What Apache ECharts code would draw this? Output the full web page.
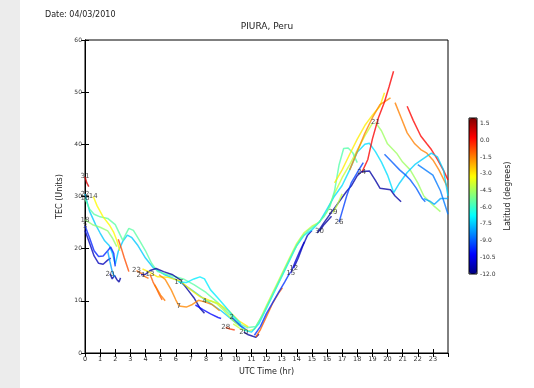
<!DOCTYPE html>
<html>
<head>
<meta charset="utf-8">
<script src="https://cdn.jsdelivr.net/npm/echarts@6/dist/echarts.min.js"></script>
<style>
  html, body { margin: 0; padding: 0; background: #fff; }
  #strip { position: absolute; left: 0; top: 0; width: 20px; height: 388px; background: #ececec; }
  #main { position: absolute; left: 0; top: 0; width: 534px; height: 388px; }
</style>
</head>
<body>
<div id="strip"></div>
<div id="main"></div>
<script>
// hour ticks and TEC ticks
const hourTicks = [0, 1, 2, 3, 4, 5, 6, 7, 8, 9, 10, 11, 12, 13, 14, 15, 16, 17, 18, 19, 20, 21, 22, 23];
const latMin = -12.0;
const latMax = 2.0;

// satellite arcs: [UTC hour, TEC]
const t01 = [[0, 33.8], [0.12, 32.6], [0.25, 31.9]];
const t02 = [[0, 30.5], [0.3, 27.2], [0.7, 24.6], [1.0, 23], [1.3, 21.5], [1.6, 20.6], [1.8, 19.2], [2.0, 17], [2.2, 19.5], [2.5, 21.4], [2.8, 22.6], [3.1, 22.1], [3.5, 20.6], [4.0, 18.2], [4.5, 16.4], [5.2, 15.1], [6.0, 14.1], [7.0, 12.2], [8.0, 10.1], [9.0, 8.1], [9.8, 6.2], [10.5, 4.6]];
const t03 = [[0, 29.6], [0.3, 27.6], [0.6, 26.6], [1.0, 26.1], [1.5, 25.8], [2.0, 24.6], [2.3, 22.8], [2.5, 21.6], [2.7, 22.8], [2.9, 23.9], [3.2, 23.5], [3.6, 21.6], [4.0, 19.6], [4.4, 17.2], [4.8, 15.6], [5.5, 15.0], [6.5, 14.2], [7.2, 13.1], [8.0, 11.6], [8.8, 9.6], [9.5, 7.6], [10.2, 5.6], [10.8, 4.8]];
const t04 = [[0.55, 30], [0.8, 28.2], [1.2, 26.1], [1.6, 24.6], [1.9, 23.1], [2.1, 21.6], [2.3, 19.6]];
const t05 = [[0, 25.5], [0.5, 24.6], [1.0, 24.1], [1.5, 23.4], [1.8, 22.1], [2.1, 20.4]];
const t06 = [[0, 24.4], [0.3, 22.1], [0.6, 19.6], [0.9, 18.5], [1.2, 18.6], [1.5, 19.6], [1.7, 20.3], [1.9, 19.1], [2.0, 16.6]];
const t07 = [[0, 23.5], [0.3, 21.1], [0.6, 18.6], [0.9, 17.2], [1.2, 17.0], [1.5, 17.8], [1.7, 18.2]];
const t08 = [[1.65, 15.2], [1.8, 14.2], [1.95, 14.9], [2.1, 14.1], [2.25, 13.6], [2.35, 14.4]];
const t09 = [[1.5, 19.5], [1.65, 17.5], [1.8, 15.6], [1.95, 14.6]];
const t10 = [[2.2, 21.8], [2.4, 20.1], [2.6, 18.2], [2.8, 16.5], [2.9, 15.6]];
const t11 = [[3.4, 15.8], [3.6, 15.5], [3.8, 15.1], [4.0, 14.6], [4.2, 14.3]];
const t12 = [[3.7, 15.0], [4.0, 15.1], [4.3, 15.8], [4.7, 16.2], [5.2, 15.6], [5.8, 15.0], [6.3, 14.0], [6.8, 12.1], [7.2, 10.6], [7.6, 8.6], [7.9, 7.6]];
const t13 = [[4.3, 15.1], [4.5, 13.6], [4.7, 12.5], [4.9, 11.3], [5.1, 10.2]];
const t14 = [[4.6, 13.1], [4.8, 12.1], [5.0, 11.1], [5.3, 10.0]];
const t15 = [[3.8, 16.1], [4.2, 15.6], [4.8, 14.6], [5.5, 14.5], [6.3, 13.8], [7.0, 12.1], [7.6, 10.8], [8.2, 10.1], [8.8, 9.5], [9.5, 8.1], [10.2, 6.1], [10.8, 5.0]];
const t16 = [[6.2, 13.6], [6.7, 13.5], [7.2, 14.2], [7.6, 14.6], [7.9, 14.2], [8.3, 12.1], [8.8, 10.5], [9.3, 8.8], [9.8, 7.1], [10.3, 5.6]];
const t17 = [[4.9, 15.0], [5.3, 14.1], [5.7, 12.1], [6.0, 10.2], [6.2, 9.1]];
const t18 = [[6.2, 9.0], [6.7, 8.8], [7.1, 9.3], [7.5, 10.1], [7.9, 9.8], [8.4, 9.3], [8.9, 8.1]];
const t19 = [[7.9, 9.9], [8.3, 10.0], [8.7, 9.5], [9.2, 8.1], [9.7, 6.5], [10.2, 5.2]];
const t20 = [[7.3, 9.2], [7.8, 8.3], [8.3, 7.5], [8.8, 6.8], [9.0, 6.6]];
const t21 = [[9.3, 4.9], [9.6, 4.6], [9.9, 4.4]];
const t22 = [[9.7, 6.8], [10.0, 6.0], [10.3, 5.2], [10.6, 4.6]];
const t23 = [[10.5, 4.0], [10.8, 3.5], [11.0, 3.3], [11.3, 3.0], [11.5, 3.6]];
const t24 = [[11.3, 3.1], [11.6, 4.5], [12.0, 7.0], [12.4, 9.5], [12.8, 11.5], [13.05, 12.5]];
const t25 = [[11.2, 3.4], [11.6, 5.1], [12.0, 7.6], [12.4, 9.6], [12.8, 11.6], [13.2, 13.6], [13.55, 15.4]];
const t26 = [[13.6, 15.3], [13.9, 17.5], [14.2, 19.5], [14.5, 21.3]];
const t27 = [[13.8, 16.3], [14.1, 18.2], [14.4, 20.5], [14.7, 22.5], [15.0, 23.5]];
const t28 = [[9.8, 5.6], [10.3, 4.6], [10.8, 4.2], [11.2, 4.6], [11.6, 6.6], [12.0, 9.1], [12.5, 12.1], [13.0, 15.1], [13.5, 18.1], [14.0, 21.0], [14.5, 23.1], [15.0, 24.3], [15.5, 25.1], [16.0, 27.1], [16.5, 30.6], [17.0, 33.6], [17.5, 36.1], [18.0, 38.9], [18.5, 41.6], [19.0, 44.0]];
const t29 = [[10.5, 4.4], [11.0, 4.0], [11.5, 5.6], [12.0, 8.6], [12.5, 11.6], [13.0, 14.6], [13.5, 17.6], [14.0, 20.6], [14.5, 22.6], [15.0, 23.6], [15.5, 25.1], [16.0, 27.6], [16.5, 30.1], [17.0, 32.1], [17.5, 35.1], [18.0, 38.5], [18.5, 40.0], [18.8, 40.2], [19.2, 38.6], [19.6, 36.6], [20.0, 34.1], [20.4, 30.8]];
const t30 = [[10.8, 4.9], [11.3, 5.1], [11.8, 7.6], [12.3, 10.6], [12.8, 13.6], [13.3, 16.6], [13.8, 19.6], [14.3, 22.1], [14.8, 23.6], [15.3, 24.6], [15.8, 26.1], [16.2, 28.1], [16.5, 31.1], [16.8, 36.1], [17.1, 39.2], [17.4, 39.3], [17.7, 38.4], [18.0, 36.5]];
const t31 = [[19.2, 44.2], [19.6, 42.6], [20.0, 40.1], [20.6, 38.3], [21.0, 36.6], [21.5, 35.1], [22.0, 32.6], [22.4, 30.1], [23.1, 28.1], [23.5, 27.1]];
const t32 = [[16.5, 32.6], [17.0, 35.1], [17.5, 38.1], [18.0, 41.0], [18.5, 43.6], [19.0, 45.6], [19.5, 47.3], [19.8, 49.9]];
const t33 = [[17.5, 35.1], [18.0, 38.6], [18.5, 42.1], [19.0, 45.1], [19.5, 47.6], [20.2, 48.9]];
const t34 = [[18.3, 34.6], [18.7, 37.1], [19.0, 41.0], [19.4, 45.1], [19.8, 48.1], [20.1, 51.0], [20.4, 54.0]];
const t35 = [[15.35, 23.0], [15.8, 25.0], [16.3, 27.0], [16.8, 29.0], [17.3, 31.0], [17.6, 32.0], [18.0, 34.0], [18.3, 34.8], [18.8, 34.9], [19.2, 33.1], [19.5, 31.6], [20.2, 31.3], [20.5, 30.1], [20.9, 29.0]];
const t36 = [[15.5, 23.3], [15.8, 24.6], [16.3, 26.2]];
const t37 = [[16.8, 25.1], [17.0, 27.1], [17.3, 30.1], [17.6, 32.6], [18.0, 34.6], [18.4, 36.5]];
const t38 = [[20.5, 48.0], [20.9, 45.1], [21.3, 42.2], [21.8, 40.1], [22.2, 39.0], [22.6, 38.3], [23.0, 37.0], [23.4, 35.1], [23.95, 31.9]];
const t39 = [[21.3, 47.3], [21.7, 44.6], [22.2, 41.6], [22.6, 40.1], [22.9, 39.0], [23.3, 37.1], [23.7, 35.0], [24.0, 33.2]];
const t40 = [[20.4, 30.7], [20.8, 32.6], [21.3, 34.6], [21.8, 36.1], [22.3, 37.1], [22.9, 38.3], [23.3, 37.6], [23.7, 35.1], [24.0, 30.1]];
const t41 = [[19.8, 38.1], [20.3, 36.6], [20.8, 35.1], [21.2, 34.1], [21.5, 33.2], [21.9, 31.6], [22.3, 29.6], [22.5, 29.0]];
const t42 = [[22.4, 29.6], [22.8, 29.1], [23.1, 28.5], [23.5, 29.6], [24.0, 29.6]];
const t43 = [[22.0, 36.1], [22.5, 35.1], [23.0, 34.1], [23.5, 31.1], [24.0, 26.6]];
const t44 = [[16.4, 26.9], [16.7, 28.5], [17.0, 30.5]];

const tracks = [t01, t02, t03, t04, t05, t06, t07, t08, t09, t10, t11, t12, t13, t14, t15, t16, t17, t18, t19, t20, t21, t22,
  t23, t24, t25, t26, t27, t28, t29, t30, t31, t32, t33, t34, t35, t36, t37, t38, t39, t40, t41, t42, t43, t44];
// PRN number shown at the start of each arc
const prnLabels = ['31', '22', '16', '14', '18', '3', '', '20', '', '', '23', '21', '13', '', '', '17', '', '7', '4', '', '28', '2',
  '20', '', '', '15', '12', '', '', '', '21', '', '', '24', '', '30', '26', '', '', '', '', '', '', '29'];
// latitude of ionospheric point (degrees)
const trackLats = [0.8, -7.5, -5.5, -3.2, -4.8, -9.8, -11.2, -11.5, -8.0, -0.8, -1.2, -11.6, -1.0, -1.4, -3.0, -7.0, -1.6, -1.6, -4.2, -10.2, -0.5, -9.2,
  -11.6, -1.0, -9.6, -10.8, -11.2, -4.0, -7.2, -5.6, -4.6, -3.0, -1.6, 0.3, -11.5, -11.6, -9.4, -1.5, 0.2, -7.4, -9.0, -8.0, -8.6, -4.0];
const latTicks = [1.5, 0.0, -1.5, -3.0, -4.5, -6.0, -7.5, -9.0, -10.5, -12.0];

const jetColors = ['#000080', '#0000ff', '#0080ff', '#00ffff', '#80ff80', '#ffff00', '#ff8000', '#ff0000', '#800000'];

function jet(v) {
  const f = Math.max(0, Math.min(1, (v - latMin) / (latMax - latMin)));
  const c = (x) => Math.round(255 * Math.max(0, Math.min(1, x)));
  return 'rgb(' + c(1.5 - Math.abs(4 * f - 3)) + ',' + c(1.5 - Math.abs(4 * f - 2)) + ',' + c(1.5 - Math.abs(4 * f - 1)) + ')';
}

const chart = echarts.init(document.getElementById('main'));
const font = 'DejaVu Sans';

const lineSeries = tracks.map((pts, i) => ({
  type: 'line',
  data: pts,
  xAxisIndex: 0,
  yAxisIndex: 0,
  showSymbol: false,
  silent: true,
  z: 2,
  lineStyle: { color: jet(trackLats[i]), width: 1.5, opacity: 0.78 },
}));

const labelPoints = [];
tracks.forEach((pts, i) => {
  if (prnLabels[i]) labelPoints.push({ value: pts[0], name: prnLabels[i] });
});

chart.setOption({
  animation: false,
  textStyle: { fontFamily: font },
  title: [
    { text: 'PIURA, Peru', left: 'center', top: 22, padding: 0,
      textStyle: { fontSize: 9, fontWeight: 'normal', color: '#222', fontFamily: font } },
    { text: 'Date: 04/03/2010', left: 45, top: 11, padding: 0,
      textStyle: { fontSize: 8, fontWeight: 'normal', color: '#222', fontFamily: font } },
  ],
  grid: [
    { left: 85, top: 40, right: 86, bottom: 35, show: true, borderColor: '#000', borderWidth: 1 },
    { left: 469, top: 118, width: 8, height: 156, show: true, borderColor: '#000', borderWidth: 1, z: 5 },
  ],
  visualMap: {
    type: 'continuous',
    min: latMin,
    max: latMax,
    orient: 'vertical',
    left: 469,
    top: 118,
    itemWidth: 8,
    itemHeight: 156,
    padding: 0,
    calculable: false,
    hoverLink: false,
    text: null,
    seriesIndex: tracks.length + 1,
    inRange: { color: jetColors },
  },
  xAxis: [
    {
      type: 'value', gridIndex: 0, min: 0, max: 24, interval: 1,
      name: 'UTC Time (hr)', nameLocation: 'middle', nameGap: 13,
      nameTextStyle: { fontSize: 8, color: '#222' },
      axisLine: { lineStyle: { color: '#000' } },
      axisTick: { inside: true, length: 4, lineStyle: { color: '#000' } },
      axisLabel: { fontSize: 6.5, color: '#333', margin: 3, showMaxLabel: false,
        formatter: (v) => (hourTicks.indexOf(v) >= 0 ? String(v) : '') },
      splitLine: { show: false },
    },
    {
      type: 'value', gridIndex: 0, min: 0, max: 24, interval: 1, position: 'top',
      axisLine: { lineStyle: { color: '#000' } },
      axisTick: { inside: true, length: 4, lineStyle: { color: '#000' } },
      axisLabel: { show: false },
      splitLine: { show: false },
    },
    { type: 'value', gridIndex: 1, show: false, min: 0, max: 1 },
  ],
  yAxis: [
    {
      type: 'value', gridIndex: 0, min: 0, max: 60, interval: 10,
      name: 'TEC (Units)', nameLocation: 'middle', nameGap: 17,
      nameTextStyle: { fontSize: 8, color: '#222' },
      axisLine: { lineStyle: { color: '#000' } },
      axisTick: { inside: true, length: 4, lineStyle: { color: '#000' } },
      axisLabel: { fontSize: 6, color: '#333', margin: 3 },
      splitLine: { show: false },
    },
    {
      type: 'value', gridIndex: 0, min: 0, max: 60, interval: 10, position: 'right',
      axisLine: { lineStyle: { color: '#000' } },
      axisTick: { inside: true, length: 4, lineStyle: { color: '#000' } },
      axisLabel: { show: false },
      splitLine: { show: false },
    },
    {
      type: 'value', gridIndex: 1, min: latMin, max: latMax, interval: 1.5, position: 'right',
      name: 'Latitud (degrees)', nameLocation: 'middle', nameGap: 27, nameRotate: 90,
      nameTextStyle: { fontSize: 8, color: '#222' },
      axisLine: { show: false },
      axisTick: { show: false },
      axisLabel: { fontSize: 6, color: '#333', margin: 3, showMaxLabel: false,
        formatter: (v) => (latTicks.some((t) => Math.abs(t - v) < 1e-6) ? v.toFixed(1) : '') },
      splitLine: { show: false },
    },
  ],
  series: lineSeries.concat([
    {
      type: 'scatter',
      xAxisIndex: 0,
      yAxisIndex: 0,
      data: labelPoints,
      symbolSize: 1,
      silent: true,
      z: 4,
      itemStyle: { color: 'transparent' },
      label: {
        show: true, position: 'inside', formatter: (p) => p.name,
        fontSize: 7, color: '#222', fontFamily: font,
      },
    },
    { type: 'scatter', xAxisIndex: 2, yAxisIndex: 2, data: [] },
  ]),
});
</script>
</body>
</html>
